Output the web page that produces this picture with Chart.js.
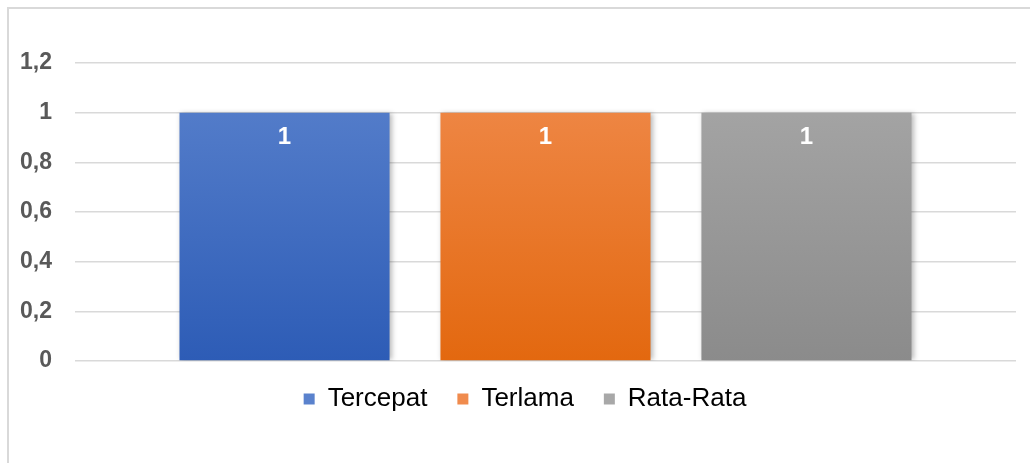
<!DOCTYPE html>
<html>
<head>
<meta charset="utf-8">
<script src="https://cdn.jsdelivr.net/npm/chart.js@4/dist/chart.umd.min.js"></script>
<style>
    html, body { margin: 0; padding: 0; background: #fff; }
    #frame {
        position: absolute; left: 7px; top: 7px; width: 1040px; height: 480px;
        border-left: 2px solid #d9d9d9; border-top: 2px solid #d9d9d9;
    }
    #wrap { position: absolute; left: 0; top: 0; width: 1030px; height: 463px; }
</style>
</head>
<body>
<div id="frame"></div>
<div id="wrap"><canvas id="waktuChart"></canvas></div>
<script>
// data
const kategori = ['Tercepat', 'Terlama', 'Rata-Rata'];
const nilai = [1, 1, 1];
const yTicks = [0, 0.2, 0.4, 0.6, 0.8, 1, 1.2];
const warnaAtas = ['#5a82cd', '#f08b4d', '#a8a8a8'];
const warnaBawah = ['#2d5cb6', '#e3680f', '#8b8b8b'];

function gradien(ctx, i) {
    const area = ctx.chart.chartArea;
    if (!area) return warnaAtas[i];
    const g = ctx.chart.ctx.createLinearGradient(0, area.top, 0, area.bottom);
    g.addColorStop(0, warnaAtas[i]);
    g.addColorStop(1, warnaBawah[i]);
    return g;
}

// bayangan tipis di sisi kanan batang
const shadowPlugin = {
    id: 'barShadow',
    beforeDatasetsDraw(chart) {
        const c = chart.ctx;
        c.save();
        c.shadowColor = 'rgba(0,0,0,0.28)';
        c.shadowBlur = 5;
        c.shadowOffsetX = 2;
        c.shadowOffsetY = 0;
    },
    afterDatasetsDraw(chart) {
        chart.ctx.restore();
    }
};

// label nilai putih di atas batang
const labelPlugin = {
    id: 'nilaiLabel',
    afterDraw(chart) {
        const c = chart.ctx;
        c.save();
        c.font = 'bold 24px "Liberation Sans", Arial, sans-serif';
        c.fillStyle = '#ffffff';
        c.textAlign = 'center';
        c.textBaseline = 'middle';
        chart.data.datasets.forEach((ds, i) => {
            const bar = chart.getDatasetMeta(i).data[0];
            if (!bar) return;
            c.fillText(String(ds.data[0]).replace('.', ','), bar.x, bar.y + 25);
        });
        c.restore();
    }
};

// geser legenda sedikit
const legendShift = {
    id: 'legendShift',
    afterLayout(chart) {
        const lg = chart.legend;
        if (!lg) return;
        lg.top -= 5;
        lg.bottom -= 5;
        lg.left += 8;
        lg.right += 8;
    }
};

const datasets = kategori.map((nama, i) => ({
    label: nama,
    data: [nilai[i]],
    backgroundColor: (ctx) => gradien(ctx, i),
    borderWidth: 0,
    categoryPercentage: 0.832,
    barPercentage: 0.805
}));

new Chart(document.getElementById('waktuChart'), {
    type: 'bar',
    data: { labels: [''], datasets: datasets },
    options: {
        responsive: true,
        maintainAspectRatio: false,
        animation: false,
        layout: { padding: { top: 63, right: 14, bottom: 36, left: 18 } },
        plugins: {
            legend: {
                position: 'bottom',
                labels: {
                    boxWidth: 11,
                    boxHeight: 11,
                    padding: 30,
                    color: '#000000',
                    font: { size: 26, family: '"Liberation Sans", Arial, sans-serif' },
                    generateLabels(chart) {
                        return chart.data.datasets.map((ds, i) => ({
                            text: ds.label,
                            fillStyle: warnaAtas[i],
                            strokeStyle: warnaAtas[i],
                            lineWidth: 0,
                            datasetIndex: i,
                            fontColor: '#000000'
                        }));
                    }
                }
            },
            tooltip: { enabled: false }
        },
        scales: {
            x: { display: false },
            y: {
                min: 0,
                max: 1.2,
                afterBuildTicks(scale) {
                    scale.ticks = yTicks.map(v => ({ value: v }));
                },
                afterFit(scale) {
                    scale.width = 57;
                },
                border: { display: false },
                grid: { color: '#d9d9d9', lineWidth: 1.5, drawTicks: false },
                ticks: {
                    padding: 23,
                    color: '#595959',
                    font: { size: 23, weight: 'bold', family: '"Liberation Sans", Arial, sans-serif' },
                    callback: (v) => String(+v.toFixed(1)).replace('.', ',')
                }
            }
        }
    },
    plugins: [shadowPlugin, labelPlugin, legendShift]
});
</script>
</body>
</html>
